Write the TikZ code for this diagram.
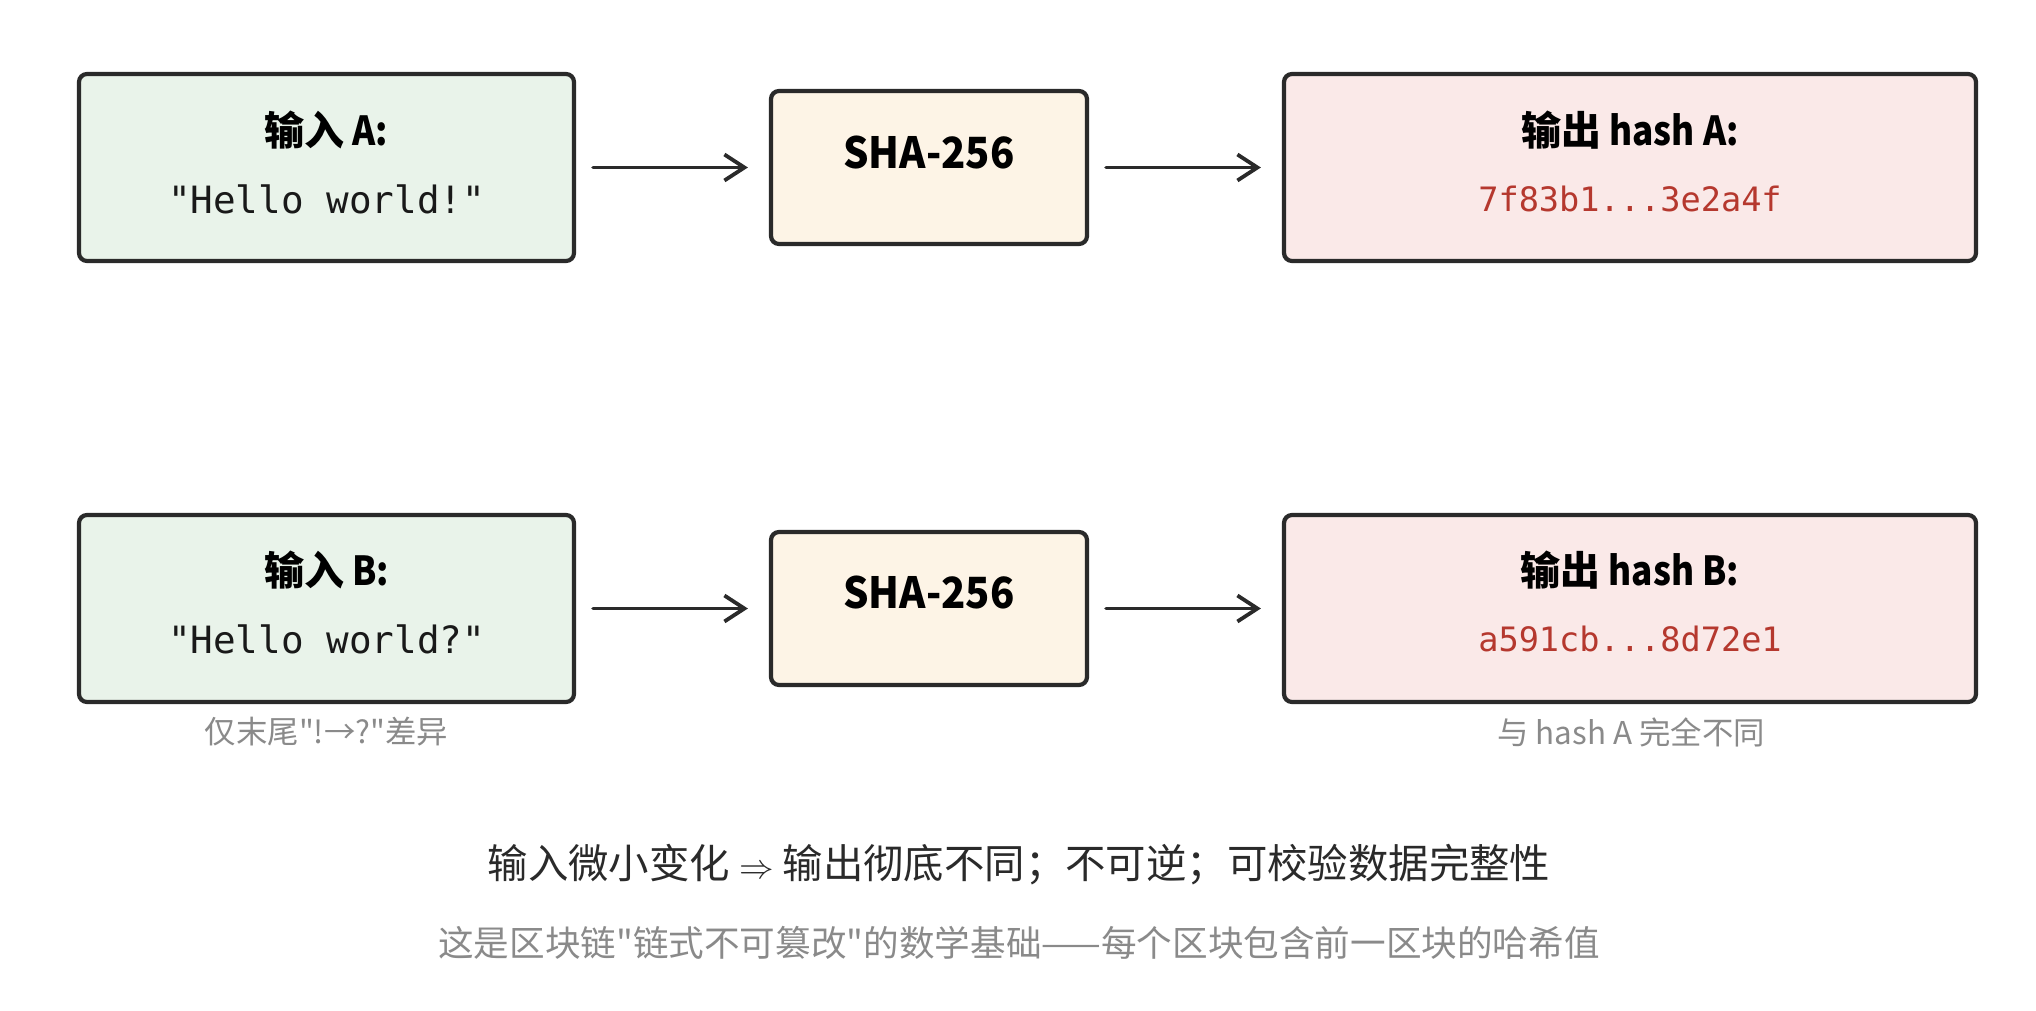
\documentclass[tikz,border=0pt]{standalone}
\usepackage{fontspec}
\usepackage{graphicx}
\newfontfamily\cjk{Noto Sans CJK SC}
\newfontfamily\monofont{DejaVu Sans Mono}
\usetikzlibrary{arrows.meta}
\definecolor{edge}{HTML}{2A2A2A}
\definecolor{ingreen}{HTML}{E9F3EA}
\definecolor{shacream}{HTML}{FDF4E6}
\definecolor{outpink}{HTML}{FAE9E8}
\definecolor{hashred}{HTML}{B5382E}
\definecolor{capgray}{HTML}{8A8A8A}
\newcommand\narrowlat[1]{\scalebox{0.88}[1]{#1}}
\tikzset{
  box/.style={draw=edge, line width=2.1pt, rounded corners=4pt, inner sep=0pt},
  inbox/.style={box, fill=ingreen, minimum width=247.5pt, minimum height=93.5pt},
  shabox/.style={box, fill=shacream, minimum width=158pt, minimum height=76.5pt},
  outbox/.style={box, fill=outpink, minimum width=346pt, minimum height=93.5pt},
  arr/.style={draw=edge, line width=1.9pt, line cap=round, shorten <=8.5pt, shorten >=10.5pt,
    -{Straight Barb[length=10pt,width=13pt,line width=1.9pt]}},
  ttl/.style={inner sep=0pt, font=\cjk\fontsize{20pt}{24pt}\selectfont\bfseries},
  shatxt/.style={inner sep=0pt, font=\cjk\fontsize{21.5pt}{25pt}\selectfont\bfseries},
  inval/.style={inner sep=0pt, text=black!90, font=\fontsize{18.8pt}{22pt}\selectfont\monofont},
  hashval/.style={inner sep=0pt, text=hashred, font=\fontsize{16.8pt}{20pt}\selectfont\monofont},
  captxt/.style={inner sep=0pt, text=capgray, font=\cjk\fontsize{15.7pt}{19pt}\selectfont},
  mainline/.style={inner sep=0pt, text=edge, font=\cjk\fontsize{20.2pt}{24pt}\selectfont},
  subline/.style={inner sep=0pt, text=capgray, font=\cjk\fontsize{17.8pt}{21pt}\selectfont}
}
\begin{document}
\begin{tikzpicture}[x=0.5pt,y=-0.5pt]
\useasboundingbox[fill=white] (0,0) rectangle (2036,1011);
% row A
\node[inbox] (inA) at (326.5,167.5) {};
\node[shabox] (shaA) at (929,167.5) {};
\node[outbox] (outA) at (1630,167.5) {};
\node[ttl] (inAt) at (326.5,130) {输入\narrowlat{\ A:}};
\node[inval] (inAv) at (326.5,199) {"Hello world!"};
\node[shatxt] (shaAt) at (929,153) {\scalebox{0.93}[1]{SHA-256}};
\node[ttl] (outAt) at (1630,130) {输出\narrowlat{\ hash A:}};
\node[hashval] (outAv) at (1630,199) {7f83b1...3e2a4f};
\draw[arr] (inA) -- (shaA);
\draw[arr] (shaA) -- (outA);
% row B
\node[inbox] (inB) at (326.5,608.5) {};
\node[shabox] (shaB) at (929,608.5) {};
\node[outbox] (outB) at (1630,608.5) {};
\node[ttl] (inBt) at (326.5,570) {输入\narrowlat{\ B:}};
\node[inval] (inBv) at (326.5,639) {"Hello world?"};
\node[shatxt] (shaBt) at (929,593) {\scalebox{0.93}[1]{SHA-256}};
\node[ttl] (outBt) at (1630,570) {输出\narrowlat{\ hash B:}};
\node[hashval] (outBv) at (1630,639) {a591cb...8d72e1};
\draw[arr] (inB) -- (shaB);
\draw[arr] (shaB) -- (outB);
% captions
\node[captxt] (capB) at (326.5,732) {仅末尾"!→?"差异};
\node[captxt] (capO) at (1631,732) {与 hash A 完全不同};
% bottom lines
\node[mainline] (l1) at (1019,865) {输入微小变化 {\fontsize{17pt}{20pt}\selectfont$\Rightarrow$} 输出彻底不同；不可逆；可校验数据完整性};
\node[subline] (l2) at (1019,943) {这是区块链"链式不可篡改"的数学基础——每个区块包含前一区块的哈希值};
\end{tikzpicture}
\end{document}
